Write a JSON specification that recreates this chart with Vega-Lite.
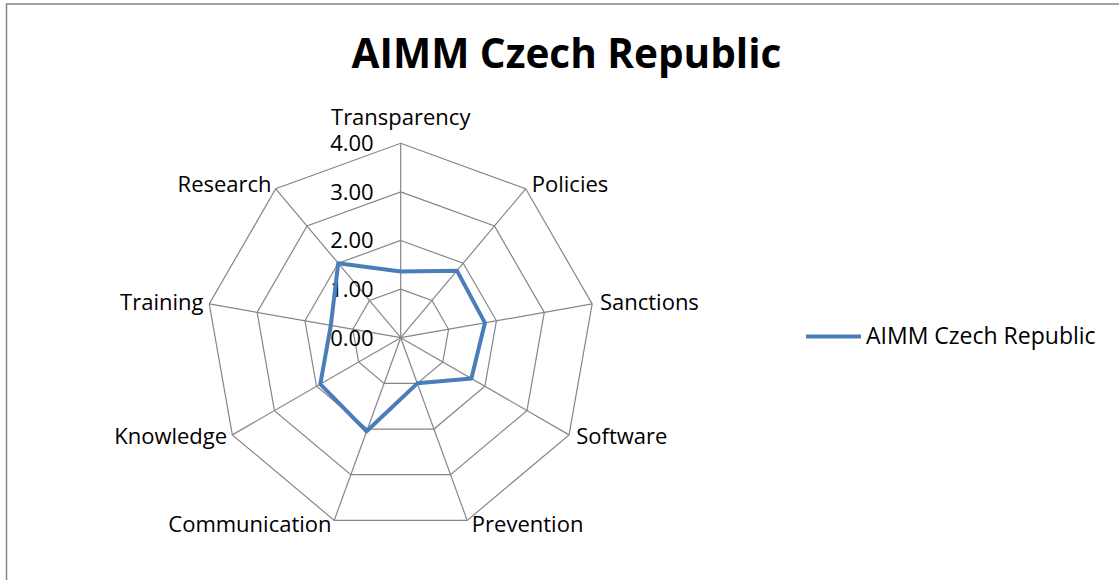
{
  "$schema": "https://vega.github.io/schema/vega-lite/v6.json",
  "width": 1120,
  "height": 580,
  "autosize": {"type": "none"},
  "padding": {"left": 6.5, "top": 4, "right": 0, "bottom": 0},
  "background": "white",
  "config": {"view": {"stroke": "#868686", "strokeWidth": 1.5}, "font": "Open Sans"},
  "title": {"text": "AIMM Czech Republic", "font": "Open Sans", "fontSize": 40.5, "fontWeight": "bold", "color": "black", "anchor": "middle", "orient": "top", "baseline": "alphabetic", "offset": -104},
  "datasets": {
    "scores": [
      {"axis": "Transparency", "i": 0, "value": 1.36, "series": "AIMM Czech Republic"},
      {"axis": "Policies", "i": 1, "value": 1.8, "series": "AIMM Czech Republic"},
      {"axis": "Sanctions", "i": 2, "value": 1.76, "series": "AIMM Czech Republic"},
      {"axis": "Software", "i": 3, "value": 1.68, "series": "AIMM Czech Republic"},
      {"axis": "Prevention", "i": 4, "value": 1.0, "series": "AIMM Czech Republic"},
      {"axis": "Communication", "i": 5, "value": 2.05, "series": "AIMM Czech Republic"},
      {"axis": "Knowledge", "i": 6, "value": 1.91, "series": "AIMM Czech Republic"},
      {"axis": "Training", "i": 7, "value": 1.46, "series": "AIMM Czech Republic"},
      {"axis": "Research", "i": 8, "value": 2.0, "series": "AIMM Czech Republic"}
    ],
    "ticks": [{"tick": 0}, {"tick": 1}, {"tick": 2}, {"tick": 3}, {"tick": 4}]
  },
  "encoding": {
    "x": {"field": "px", "type": "quantitative", "scale": {"domain": [-8.111, 14.934], "nice": false, "zero": false}, "axis": null},
    "y": {"field": "py", "type": "quantitative", "scale": {"domain": [-5.068, 6.866], "nice": false, "zero": false}, "axis": null}
  },
  "layer": [
    {
      "data": {"name": "scores"},
      "transform": [
        {"calculate": "[1,2,3,4]", "as": "level"},
        {"flatten": ["level"]},
        {"calculate": "datum.i*2*PI/9", "as": "theta"},
        {"calculate": "datum.level*sin(datum.theta)", "as": "px"},
        {"calculate": "datum.level*cos(datum.theta)", "as": "py"}
      ],
      "mark": {"type": "line", "interpolate": "linear-closed", "color": "#868686", "strokeWidth": 1.2},
      "encoding": {
        "detail": {"field": "level", "type": "nominal"},
        "order": {"field": "i", "type": "quantitative"}
      }
    },
    {
      "data": {"name": "scores"},
      "transform": [
        {"calculate": "datum.i*2*PI/9", "as": "theta"},
        {"calculate": "0", "as": "px"},
        {"calculate": "0", "as": "py"},
        {"calculate": "4*sin(datum.theta)", "as": "ex"},
        {"calculate": "4*cos(datum.theta)", "as": "ey"}
      ],
      "mark": {"type": "rule", "color": "#868686", "strokeWidth": 1.2},
      "encoding": {
        "x2": {"field": "ex"},
        "y2": {"field": "ey"}
      }
    },
    {
      "data": {"name": "ticks"},
      "transform": [
        {"calculate": "0", "as": "px"},
        {"calculate": "datum.tick", "as": "py"}
      ],
      "mark": {"type": "text", "align": "right", "baseline": "middle", "dx": -27, "dy": 1, "font": "Open Sans", "fontSize": 22, "color": "black"},
      "encoding": {
        "text": {"field": "tick", "type": "quantitative", "format": ".2f"}
      }
    },
    {
      "data": {"name": "scores"},
      "transform": [
        {"calculate": "datum.i*2*PI/9", "as": "theta"},
        {"calculate": "datum.value*sin(datum.theta)", "as": "px"},
        {"calculate": "datum.value*cos(datum.theta)", "as": "py"}
      ],
      "mark": {"type": "line", "interpolate": "linear-closed", "strokeWidth": 4, "strokeJoin": "round", "strokeCap": "round"},
      "encoding": {
        "order": {"field": "i", "type": "quantitative"},
        "color": {
          "field": "series", "type": "nominal",
          "scale": {"range": ["#4A7EBB"]},
          "legend": {"title": null, "orient": "none", "legendX": 797.5, "legendY": 303, "symbolType": "stroke", "symbolSize": 3025, "symbolStrokeWidth": 4, "labelFont": "Open Sans", "labelFontSize": 23, "labelColor": "black", "labelOffset": 3, "labelLimit": 400, "padding": 0}
        }
      }
    },
    {
      "data": {"name": "scores"},
      "transform": [
        {"filter": "datum.i >= 1 && datum.i <= 4"},
        {"calculate": "datum.i*2*PI/9", "as": "theta"},
        {"calculate": "4.1*sin(datum.theta)", "as": "px"},
        {"calculate": "4.1*cos(datum.theta)", "as": "py"}
      ],
      "mark": {"type": "text", "align": "left", "baseline": "middle", "dx": 3, "font": "Open Sans", "fontSize": 22, "color": "black"},
      "encoding": {
        "text": {"field": "axis", "type": "nominal"}
      }
    },
    {
      "data": {"name": "scores"},
      "transform": [
        {"filter": "datum.i >= 5"},
        {"calculate": "datum.i*2*PI/9", "as": "theta"},
        {"calculate": "4.1*sin(datum.theta)", "as": "px"},
        {"calculate": "4.1*cos(datum.theta)", "as": "py"}
      ],
      "mark": {"type": "text", "align": "right", "baseline": "middle", "dx": -1, "font": "Open Sans", "fontSize": 22, "color": "black"},
      "encoding": {
        "text": {"field": "axis", "type": "nominal"}
      }
    },
    {
      "data": {"name": "scores"},
      "transform": [
        {"filter": "datum.i == 0"},
        {"calculate": "0", "as": "px"},
        {"calculate": "4", "as": "py"}
      ],
      "mark": {"type": "text", "align": "center", "baseline": "alphabetic", "dy": -18, "font": "Open Sans", "fontSize": 22, "color": "black"},
      "encoding": {
        "text": {"field": "axis", "type": "nominal"}
      }
    }
  ]
}
